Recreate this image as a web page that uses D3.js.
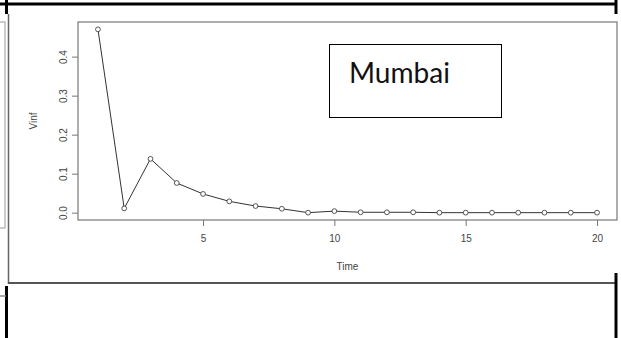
<!DOCTYPE html>
<html>
<head>
<meta charset="utf-8">
<script src="https://cdn.jsdelivr.net/npm/d3@7"></script>
<style>
  html, body { margin: 0; padding: 0; background: #fff; }
  svg { display: block; }
</style>
</head>
<body>
<svg id="chart" width="621" height="338"></svg>
<script>
// Series: Vinf over time steps
const time = [1, 2, 3, 4, 5, 6, 7, 8, 9, 10, 11, 12, 13, 14, 15, 16, 17, 18, 19, 20];
const vinf = [0.470, 0.011, 0.138, 0.076, 0.048, 0.029, 0.017, 0.010, 0.000, 0.004,
              0.001, 0.001, 0.001, 0.000, 0.000, 0.000, 0.000, 0.000, 0.000, 0.000];
const xTicks = [5, 10, 15, 20];
const yTicks = [0.0, 0.1, 0.2, 0.3, 0.4];
const xTitle = "Time";
const yTitle = "Vinf";
const boxLabel = "Mumbai";

const svg = d3.select("#chart");

// Plot region (R-style box with 4% padding on each axis)
const box = { left: 78, right: 617, top: 22, bottom: 220 };
const xPad = (d3.max(time) - d3.min(time)) * 0.04;
const yPad = (d3.max(vinf) - d3.min(vinf)) * 0.04;

const x = d3.scaleLinear()
  .domain([d3.min(time) - xPad, d3.max(time) + xPad])
  .range([box.left, box.right]);
const y = d3.scaleLinear()
  .domain([d3.min(vinf) - yPad, d3.max(vinf) + yPad])
  .range([box.bottom, box.top]);

// Surrounding document frame lines
const frame = svg.append("g");
frame.append("rect")
  .attr("x", -2).attr("y", 22).attr("width", 7).attr("height", 206)
  .attr("fill", "none").attr("stroke", "#aaa").attr("stroke-width", 1.2);
frame.append("line")
  .attr("x1", 8.5).attr("x2", 8.5).attr("y1", 14).attr("y2", 284)
  .attr("stroke", "#666").attr("stroke-width", 1.5);
frame.append("line")
  .attr("x1", 8).attr("x2", 615).attr("y1", 283).attr("y2", 283)
  .attr("stroke", "#555").attr("stroke-width", 2);

// Black table rules
const rules = [
  [0, 4, 617, 4], [6.5, 0, 6.5, 14], [616, 0, 616, 14],
  [6.5, 286, 6.5, 338], [616, 273, 616, 338]
];
frame.selectAll("line.rule").data(rules).enter().append("line")
  .attr("class", "rule")
  .attr("x1", d => d[0]).attr("y1", d => d[1])
  .attr("x2", d => d[2]).attr("y2", d => d[3])
  .attr("stroke", "#000").attr("stroke-width", 3);
frame.append("line")
  .attr("x1", 0).attr("x2", 6).attr("y1", 296).attr("y2", 296)
  .attr("stroke", "#888").attr("stroke-width", 1.5);

// Plot box
svg.append("rect")
  .attr("x", box.left).attr("y", box.top)
  .attr("width", box.right - box.left).attr("height", box.bottom - box.top)
  .attr("fill", "none").attr("stroke", "#777").attr("stroke-width", 1.2);

const font = "'Liberation Sans', Arial, sans-serif";

// X axis
const xAxis = svg.append("g")
  .attr("transform", `translate(0,${box.bottom})`)
  .call(d3.axisBottom(x).tickValues(xTicks).tickSize(6).tickPadding(9).tickFormat(d3.format("d")));
xAxis.select(".domain").remove();
xAxis.selectAll("line").attr("stroke", "#777");
xAxis.selectAll("text").attr("fill", "#444").style("font-family", font).style("font-size", "10px");

// Y axis with rotated labels
const yAxis = svg.append("g")
  .attr("transform", `translate(${box.left},0)`)
  .call(d3.axisLeft(y).tickValues(yTicks).tickSize(6).tickFormat(d3.format(".1f")));
yAxis.select(".domain").remove();
yAxis.selectAll("line").attr("stroke", "#777");
yAxis.selectAll("text")
  .attr("fill", "#444")
  .attr("x", null).attr("dy", null)
  .attr("text-anchor", "middle")
  .attr("transform", "translate(-15,0) rotate(-90)")
  .attr("dy", "0.35em")
  .style("font-family", font).style("font-size", "10px");

// Axis titles
svg.append("text")
  .attr("x", (box.left + box.right) / 2).attr("y", 270)
  .attr("text-anchor", "middle")
  .attr("fill", "#444")
  .style("font-family", font).style("font-size", "10px")
  .text(xTitle);
svg.append("text")
  .attr("transform", `translate(37,${(box.top + box.bottom) / 2}) rotate(-90)`)
  .attr("text-anchor", "middle")
  .attr("fill", "#444")
  .style("font-family", font).style("font-size", "10px")
  .text(yTitle);

// Line and points
const pts = time.map((t, i) => [t, vinf[i]]);
svg.append("path")
  .datum(pts)
  .attr("fill", "none")
  .attr("stroke", "#333")
  .attr("stroke-width", 1)
  .attr("d", d3.line().x(d => x(d[0])).y(d => y(d[1])));
svg.selectAll("circle.pt").data(pts).enter().append("circle")
  .attr("class", "pt")
  .attr("cx", d => x(d[0])).attr("cy", d => y(d[1]))
  .attr("r", 2.4)
  .attr("fill", "#fff")
  .attr("stroke", "#444")
  .attr("stroke-width", 0.9);

// Label box
svg.append("rect")
  .attr("x", 329.5).attr("y", 44.5).attr("width", 172).attr("height", 73)
  .attr("fill", "#fff").attr("stroke", "#000").attr("stroke-width", 1);
svg.append("text")
  .attr("x", 349).attr("y", 83)
  .attr("fill", "#111")
  .attr("textLength", 101).attr("lengthAdjust", "spacingAndGlyphs")
  .style("font-family", "Lato, 'Open Sans', sans-serif").style("font-size", "29px")
  .text(boxLabel);
</script>
</body>
</html>
